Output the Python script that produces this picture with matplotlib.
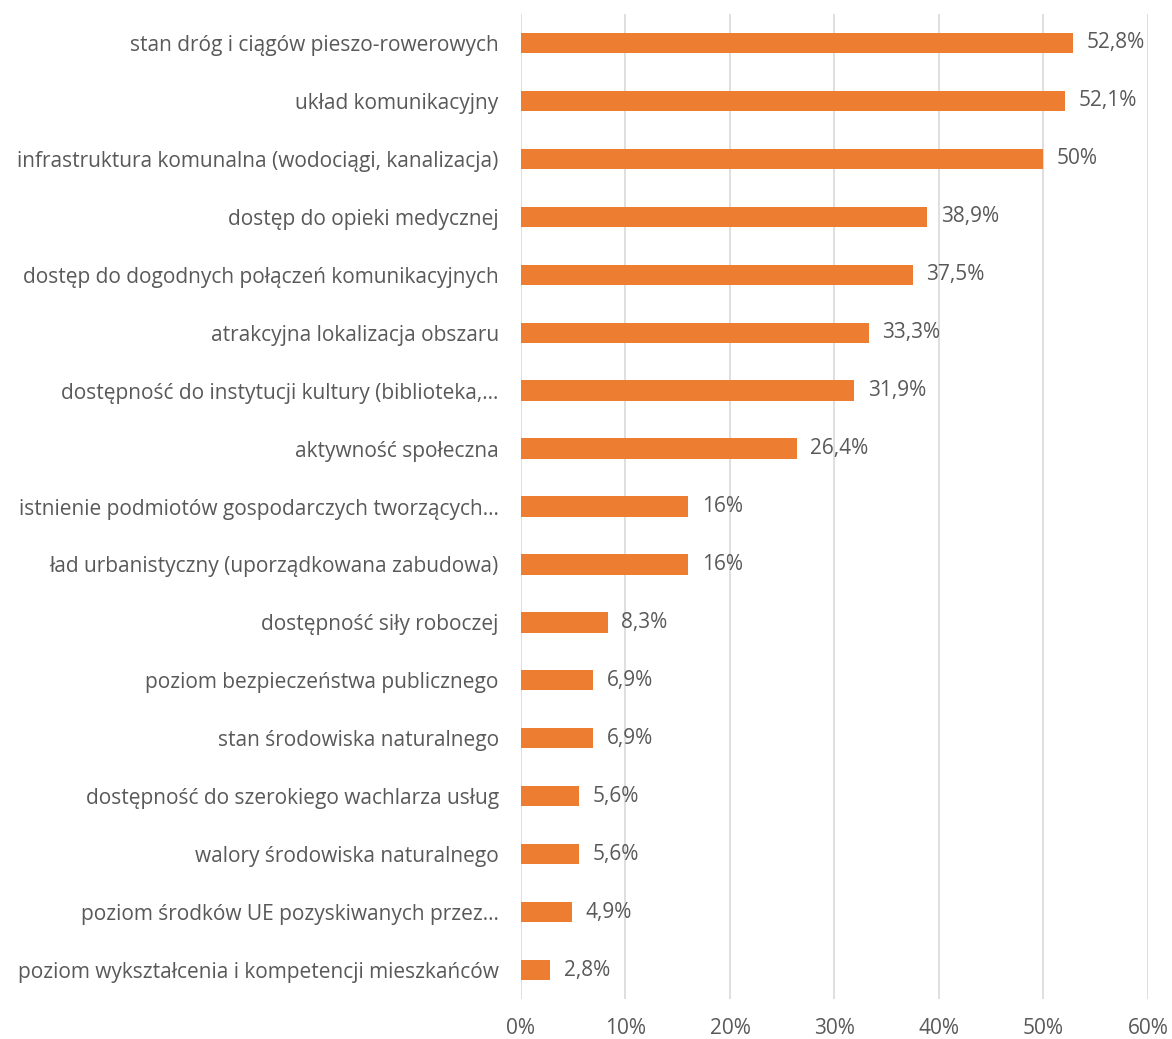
import matplotlib.pyplot as plt
from matplotlib.ticker import PercentFormatter

labels = [
    "stan dróg i ciągów pieszo-rowerowych",
    "układ komunikacyjny",
    "infrastruktura komunalna (wodociągi, kanalizacja)",
    "dostęp do opieki medycznej",
    "dostęp do dogodnych połączeń komunikacyjnych",
    "atrakcyjna lokalizacja obszaru",
    "dostępność do instytucji kultury (biblioteka,...",
    "aktywność społeczna",
    "istnienie podmiotów gospodarczych tworzących...",
    "ład urbanistyczny (uporządkowana zabudowa)",
    "dostępność siły roboczej",
    "poziom bezpieczeństwa publicznego",
    "stan środowiska naturalnego",
    "dostępność do szerokiego wachlarza usług",
    "walory środowiska naturalnego",
    "poziom środków UE pozyskiwanych przez...",
    "poziom wykształcenia i kompetencji mieszkańców",
]
values = [52.8, 52.1, 50.0, 38.9, 37.5, 33.3, 31.9, 26.4, 16.0, 16.0,
          8.3, 6.9, 6.9, 5.6, 5.6, 4.9, 2.8]
value_text = ["52,8%", "52,1%", "50%", "38,9%", "37,5%", "33,3%", "31,9%", "26,4%",
              "16%", "16%", "8,3%", "6,9%", "6,9%", "5,6%", "5,6%", "4,9%", "2,8%"]

txt = "#595959"
plt.rcParams['font.family'] = ['Open Sans', 'DejaVu Sans']

fig = plt.figure(figsize=(11.72, 10.39), dpi=100)
ax = fig.add_axes([0.4445, 0.0385, 0.535, 0.948])

y = list(range(len(labels)))
ax.barh(y, values, height=0.35, color="#ED7D31", zorder=3)
for yi, v, t in zip(y, values, value_text):
    ax.text(v + 1.3, yi, t, va="center", ha="left", fontsize=15, color=txt)

ax.set_yticks(y)
ax.set_yticklabels(labels, fontsize=15, color=txt)
ax.set_ylim(len(labels) - 0.5, -0.5)
ax.set_xlim(0, 60)
ax.set_xticks(range(0, 61, 10))
ax.xaxis.set_major_formatter(PercentFormatter(decimals=0))
ax.tick_params(axis="x", labelsize=15, colors=txt, length=0, pad=14)
ax.tick_params(axis="y", length=0, pad=16)
ax.grid(axis="x", color="#D9D9D9", linewidth=1.2, zorder=0)
for s in ax.spines.values():
    s.set_visible(False)

fig.savefig("out.png", dpi=100)
